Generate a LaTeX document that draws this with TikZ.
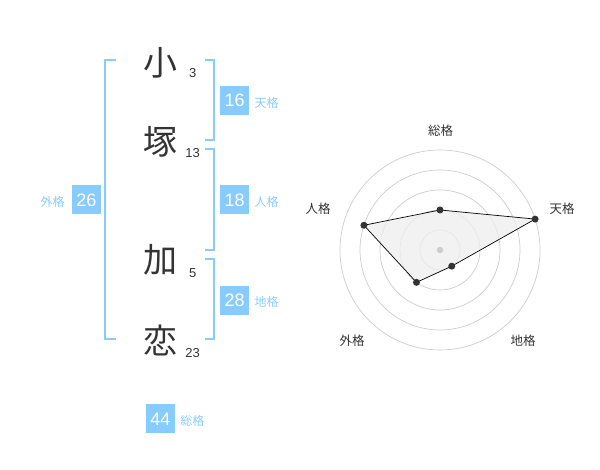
\documentclass[tikz,border=0pt]{standalone}
\usepackage{fontspec}
\setmainfont{Liberation Sans}
\newfontfamily\jpfont{Noto Sans CJK JP}
\usetikzlibrary{positioning, calc}

\definecolor{kakublue}{HTML}{88CCFF}
\definecolor{moji}{HTML}{333333}
\definecolor{ring}{HTML}{CCCCCC}
\definecolor{radarfill}{HTML}{EEEEEE}

\begin{document}
\begin{tikzpicture}[x=1pt, y=1pt]

% Set the overall size of the picture
\useasboundingbox (0,0) rectangle (600,470);

% Define styles for names, strokes and boxes
\tikzstyle{kanji} = [inner sep=0pt, text=moji, font=\jpfont\fontsize{34}{34}\selectfont]
\tikzstyle{kaku} = [inner sep=0pt, text=moji, font=\fontsize{13}{13}\selectfont]
\tikzstyle{kakubox} = [fill=kakublue, text=white, minimum size=29pt, inner sep=0pt, font=\fontsize{18}{18}\selectfont]
\tikzstyle{kakuname} = [inner sep=0pt, text=kakublue, font=\jpfont\fontsize{12}{12}\selectfont]
\tikzstyle{bracket} = [draw=kakublue, line width=2pt]

%Nombre con sus trazos
\node[kanji] (ko) at (160,407) {小};
\node[kaku] (ko-n) at (192.7,397.3) {3};
\node[kanji] (tsuka) at (160,328.3) {塚};
\node[kaku] (tsuka-n) at (192.7,317) {13};
\node[kanji] (ka) at (160,210) {加};
\node[kaku] (ka-n) at (192.7,197.3) {5};
\node[kanji] (ren) at (160,130) {恋};
\node[kaku] (ren-n) at (192.7,117.3) {23};

% Brackets
\coordinate (gai-a) at (116,410);
\coordinate (gai-b) at (116,130.7);
\draw[bracket] (gai-a) -- (105,410) -- (105,130.7) -- (gai-b);
\coordinate (ten-a) at (205,410);
\coordinate (ten-b) at (205,330);
\draw[bracket] (ten-a) -- (214,410) -- (214,330) -- (ten-b);
\coordinate (jin-a) at (205,320.7);
\coordinate (jin-b) at (205,220);
\draw[bracket] (jin-a) -- (214,320.7) -- (214,220) -- (jin-b);
\coordinate (chi-a) at (205,210.7);
\coordinate (chi-b) at (205,130.7);
\draw[bracket] (chi-a) -- (214,210.7) -- (214,130.7) -- (chi-b);

% Boxes with totals
\node[kakubox] (ten) at (234.7,369.5) {16};
\node[kakuname, right=5pt of ten, yshift=-2pt] (ten-l) {天格};
\node[kakubox] (jin) at (234.7,270) {18};
\node[kakuname, right=5pt of jin, yshift=-2pt] (jin-l) {人格};
\node[kakubox] (chi) at (234.7,169.7) {28};
\node[kakuname, right=5pt of chi, yshift=-2pt] (chi-l) {地格};
\node[kakubox] (gai) at (86.5,270) {26};
\node[kakuname, left=7pt of gai, yshift=-2pt] (gai-l) {外格};
\node[kakubox] (so) at (160.5,51) {44};
\node[kakuname, right=5pt of so, yshift=-2pt] (so-l) {総格};

% Radar chart
\coordinate (c) at (440,220);
\foreach \r in {20,40,60,80,100}
	\draw[ring, line width=0.7pt] (c) circle (\r);

\coordinate (p-so) at ($(c)+(90:40)$);
\coordinate (p-ten) at ($(c)+(18:100)$);
\coordinate (p-chi) at ($(c)+(-54:20)$);
\coordinate (p-gai) at ($(c)+(-126:40)$);
\coordinate (p-jin) at ($(c)+(162:80)$);

\filldraw[fill=radarfill, fill opacity=0.75, draw=black, line width=0.7pt]
	(p-so) -- (p-ten) -- (p-chi) -- (p-gai) -- (p-jin) -- cycle;
\fill[ring] (c) circle (3.2);
\foreach \p in {so,ten,chi,gai,jin}
	\fill[moji] (p-\p) circle (3.5);

\tikzstyle{radarlabel} = [inner sep=0pt, text=moji, font=\jpfont\fontsize{12.5}{12.5}\selectfont]
\node[radarlabel] (l-so) at (440.7,339.3) {総格};
\node[radarlabel] (l-ten) at (562,261) {天格};
\node[radarlabel] (l-chi) at (523,129) {地格};
\node[radarlabel] (l-gai) at (352,129) {外格};
\node[radarlabel] (l-jin) at (318,261) {人格};

\end{tikzpicture}
\end{document}
